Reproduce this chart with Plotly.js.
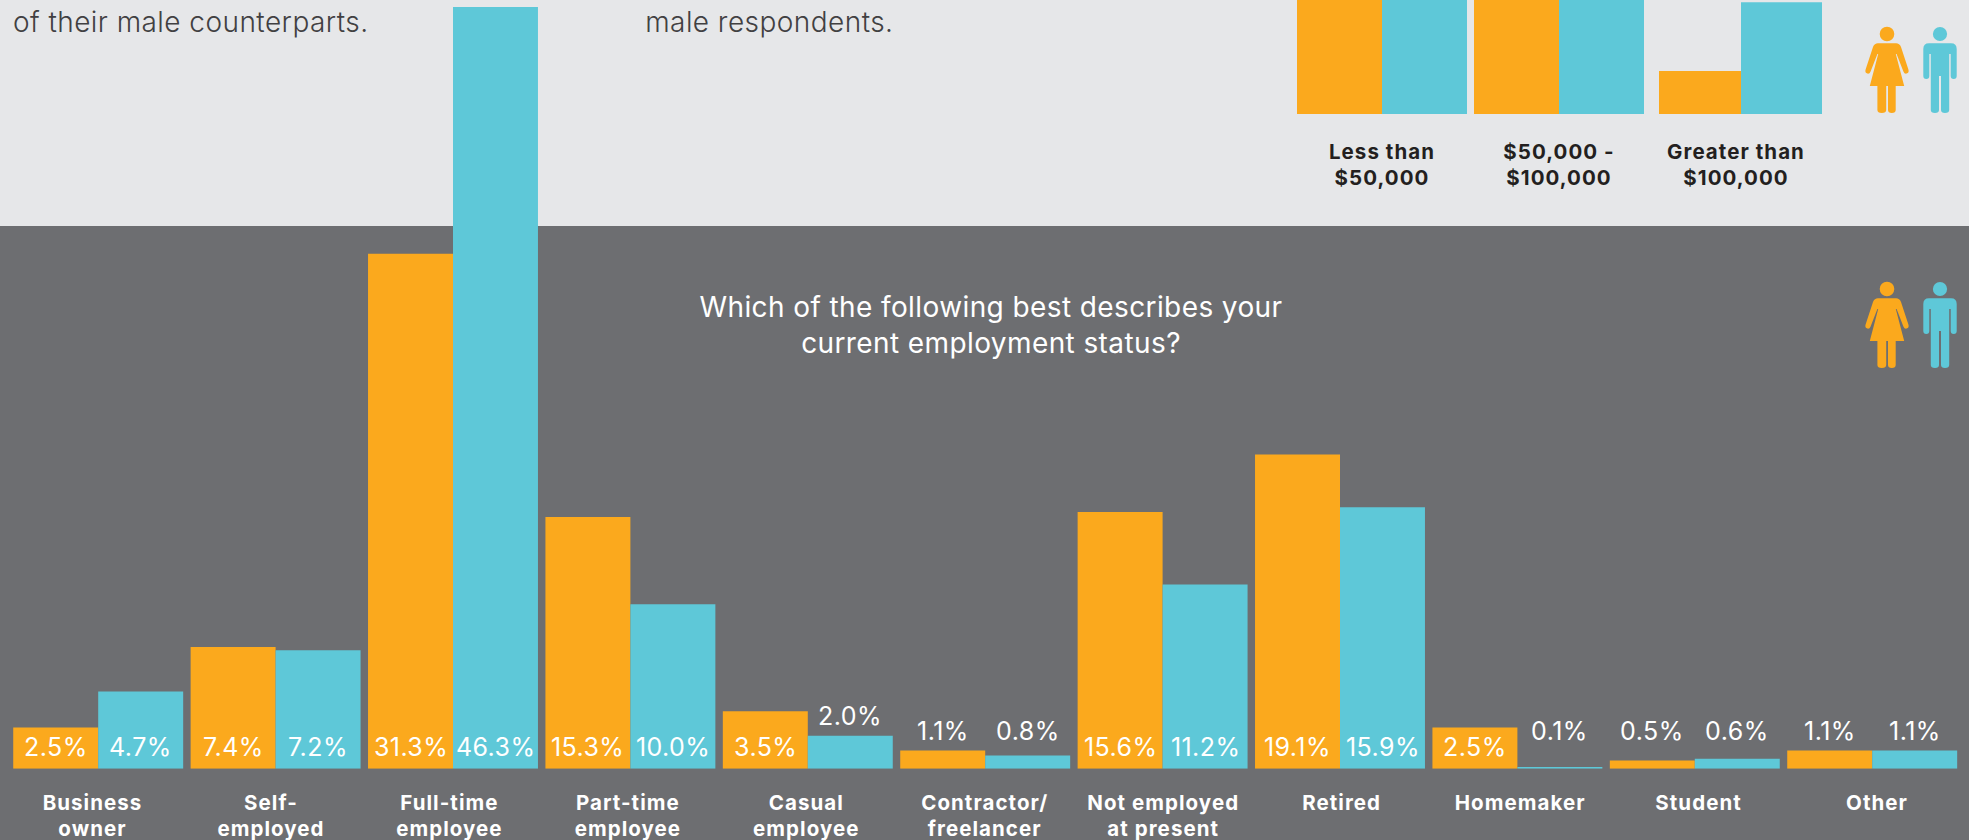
<!DOCTYPE html>
<html>
<head>
<meta charset="utf-8">
<script src="https://cdn.plot.ly/plotly-3.0.1.min.js"></script>
<style>
html,body{margin:0;padding:0;background:#6d6e71;overflow:hidden}
#chart{width:1969px;height:840px}
/* Open up the text a little for a wider, more geometric look */
#chart .gtitle{letter-spacing:.4px}
#chart .x2tick text,#chart .x3tick text{letter-spacing:1.05px}
#chart .annotation-text{letter-spacing:.45px}
</style>
</head>
<body>
<div id="chart"></div>
<script>
// Employment status survey results, percent of respondents
const categories = ['Business<br>owner','Self-<br>employed','Full-time<br>employee','Part-time<br>employee','Casual<br>employee','Contractor/<br>freelancer','Not employed<br>at present','Retired','Homemaker','Student','Other'];
const femaleValues = [2.5,7.4,31.3,15.3,3.5,1.1,15.6,19.1,2.5,0.5,1.1];
const maleValues = [4.7,7.2,46.3,10.0,2.0,0.8,11.2,15.9,0.1,0.6,1.1];

// Household income panel, continued from the section above
const incomeCategories = ['Less than<br>$50,000','$50,000 -<br>$100,000','Greater than<br>$100,000'];
const incomeFemale = [52,38,10];
const incomeMale = [36,38,26];

const questionTitle = 'Which of the following best describes your<br>current employment status?';
const ORANGE = '#fba91d', TEAL = '#5ec8d8', DARK = '#6d6e71', LIGHT = '#e6e7e9';
const W = 1969, H = 840;
const BODY_FONT = 'Inter, "Open Sans", sans-serif';

// Page-pixel helpers for the layout geometry
const px = x => x / W, py = y => 1 - y / H;
const BASE_Y = 768.7, PX_PER_PCT = 16.45;
const STEP = 177.4, FIRST = 98.2;
const LABEL_STEP = 178.45, LABEL_FIRST = 92.5;
const INC_BASE_Y = 114, INC_STEP = 177, INC_FIRST = 1382, INC_PX_PER_PCT = 4.3;

const catRange = (first, step) => [-first / step, (W - first) / step];

const traces = [
  {type:'bar', name:'Female', x:categories, y:femaleValues, marker:{color:ORANGE}, hoverinfo:'skip'},
  {type:'bar', name:'Male', x:categories, y:maleValues, marker:{color:TEAL}, hoverinfo:'skip'},
  // Carries the slightly wider-spaced category labels below the bars
  {type:'scatter', mode:'none', x:categories, y:femaleValues.map(() => 0), xaxis:'x2', yaxis:'y', hoverinfo:'skip'},
  {type:'bar', name:'Female', x:incomeCategories, y:incomeFemale, xaxis:'x3', yaxis:'y3', marker:{color:ORANGE},
   width:[85,85,82].map(v => v / INC_STEP), offset:[-85,-85,-77].map(v => v / INC_STEP), hoverinfo:'skip'},
  {type:'bar', name:'Male', x:incomeCategories, y:incomeMale, xaxis:'x3', yaxis:'y3', marker:{color:TEAL},
   width:[85,85,81].map(v => v / INC_STEP), offset:[0,0,5].map(v => v / INC_STEP), hoverinfo:'skip'}
];

// Value labels sit at a fixed height inside tall bars and just above short ones
function labelHeight(v) {
  if (v >= 2.5) return 1.32;
  return Math.max(2.28, v + 1.2);
}
const valueAnnotations = [];
categories.forEach((c, i) => {
  [[femaleValues[i], -42.5], [maleValues[i], 42.5]].forEach(([v, shift]) => {
    valueAnnotations.push({
      xref:'x', yref:'y', x:c, y:labelHeight(v), xshift:shift, yanchor:'middle', xanchor:'center',
      text:v.toFixed(1) + '%', showarrow:false,
      font:{family:BODY_FONT, size:25, color:'#ffffff'}
    });
  });
});

const noteAnnotations = [
  {text:'of their male counterparts.', x:17, y:22},
  {text:'male respondents.', x:647, y:22}
].map(n => ({
  xref:'paper', yref:'paper', x:px(n.x), y:py(n.y), xanchor:'left', yanchor:'middle',
  text:n.text, showarrow:false, font:{family:BODY_FONT, size:28, weight:300, color:'#414042'}
}));

// Figure pictograms: outlines are written y-down from the head centre
const flipY = d => d.replace(/(-?[\d.]+),(-?[\d.]+)/g, (m, a, b) => a + ',' + (-parseFloat(b)));
const WOMAN = 'M-9,9.3 L9,9.3 Q12.5,9.3 14,13 L21.4,35.5 Q22.4,39 19.5,39.6 Q17.4,40 16.4,37.4 L9.6,20 L8.8,20 ' +
  'L17.2,52 L8.7,52 L8.7,76 Q8.7,79 4.8,79 Q1,79 1,76 L1,52 L-0.8,52 L-0.8,76 Q-0.8,79 -5.2,79 Q-9.6,79 -9.6,76 L-9.6,52 L-17.2,52 ' +
  'L-8.8,20 L-9.6,20 L-16.4,37.4 Q-17.4,40 -19.5,39.6 Q-22.4,39 -21.4,35.5 L-14,13 Q-12.5,9.3 -9,9.3 Z';
const MAN = 'M-11,9.3 L11,9.3 Q16.7,9.3 16.7,15 L16.7,42 Q16.7,45 13.7,45 Q10.7,45 10.7,42 L10.7,20 L9.2,20 L9.2,76 ' +
  'Q9.2,79 5,79 Q1,79 1,76 L1,42 L-1,42 L-1,76 Q-1,79 -5,79 Q-9.2,79 -9.2,76 L-9.2,20 L-10.7,20 L-10.7,42 ' +
  'Q-10.7,45 -13.7,45 Q-16.7,45 -16.7,42 L-16.7,15 Q-16.7,9.3 -11,9.3 Z';

function figure(outline, color, cx, cy, r) {
  const anchor = {xref:'paper', yref:'paper', xsizemode:'pixel', ysizemode:'pixel', xanchor:px(cx), yanchor:py(cy),
    fillcolor:color, line:{width:0}, layer:'above'};
  return [
    Object.assign({type:'circle', x0:-r, x1:r, y0:-r, y1:r}, anchor),
    Object.assign({type:'path', path:flipY(outline)}, anchor)
  ];
}

const shapes = [
  {type:'rect', xref:'paper', yref:'paper', x0:0, x1:1, y0:py(226), y1:1, fillcolor:LIGHT, line:{width:0}, layer:'below'},
  {type:'rect', xref:'paper', yref:'paper', x0:0, x1:1, y0:0, y1:py(226), fillcolor:DARK, line:{width:0}, layer:'below'},
  ...figure(WOMAN, ORANGE, 1887, 34, 7.3),
  ...figure(MAN, TEAL, 1940, 34, 7.1),
  ...figure(WOMAN, ORANGE, 1887, 289, 7.3),
  ...figure(MAN, TEAL, 1940, 289, 7.1)
];

const hiddenAxis = {showgrid:false, zeroline:false, showline:false, showticklabels:false, ticks:'', fixedrange:true};
const layout = {
  width:W, height:H, margin:{l:0, r:0, t:0, b:0, pad:0},
  paper_bgcolor:DARK, plot_bgcolor:'rgba(0,0,0,0)', showlegend:false,
  barmode:'group', bargap:0.042, bargroupgap:0,
  title:{text:questionTitle, x:px(991), xanchor:'center', y:py(317), yanchor:'middle', xref:'paper', yref:'paper',
         font:{family:BODY_FONT, size:28, color:'#ffffff'}},
  xaxis:Object.assign({}, hiddenAxis, {type:'category', range:catRange(FIRST, STEP), domain:[0,1], anchor:'y'}),
  xaxis2:Object.assign({}, hiddenAxis, {
    type:'category', range:catRange(LABEL_FIRST, LABEL_STEP), overlaying:'x', anchor:'y', side:'bottom',
    showticklabels:true, ticks:'outside', ticklen:15.5, tickcolor:'rgba(0,0,0,0)', tickangle:0,
    tickfont:{family:BODY_FONT, size:20.5, weight:700, color:'#ffffff'}
  }),
  yaxis:Object.assign({}, hiddenAxis, {range:[0, BASE_Y / PX_PER_PCT], domain:[py(BASE_Y), 1], anchor:'x'}),
  xaxis3:Object.assign({}, hiddenAxis, {
    type:'category', range:catRange(INC_FIRST, INC_STEP), domain:[0,1], anchor:'y3',
    showticklabels:true, ticks:'outside', ticklen:19, tickcolor:'rgba(0,0,0,0)', tickangle:0,
    tickfont:{family:BODY_FONT, size:20.5, weight:700, color:'#231f20'}
  }),
  yaxis3:Object.assign({}, hiddenAxis, {range:[0, INC_BASE_Y / INC_PX_PER_PCT], domain:[py(INC_BASE_Y), 1], anchor:'x3'}),
  annotations:[...valueAnnotations, ...noteAnnotations],
  shapes:shapes
};

Plotly.newPlot('chart', traces, layout, {displayModeBar:false, staticPlot:true});
</script>
</body>
</html>
